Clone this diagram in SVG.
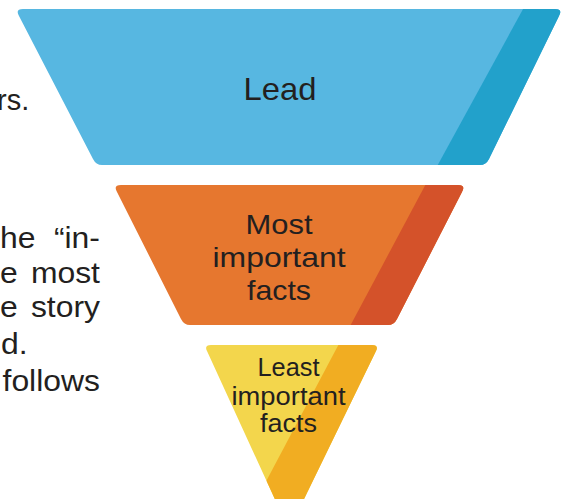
<svg xmlns="http://www.w3.org/2000/svg" width="568" height="499" viewBox="0 0 568 499">
<style>
.body{font-family:"Liberation Sans",Arial,sans-serif;font-size:29px;fill:#231f20}
.lbl{font-family:"Liberation Sans",Arial,sans-serif;fill:#231f20;text-anchor:middle}
.blue{fill:#57b7e1}.blueD{fill:#22a1cb}
.orange{fill:#e6772f}.orangeD{fill:#d4522a}
.yellow{fill:#f3d64c}.yellowD{fill:#f1ad22}
</style>
<defs>
<clipPath id="cBlue"><path d="M 23,9 H 555 Q 563,9 559,16 L 489,159 Q 486,165 480,165 H 102 Q 96,165 93,159 L 19,16 Q 15,9 23,9 Z"/></clipPath>
<clipPath id="cOrange"><path d="M 121,185 H 458 Q 466,185 462,192 L 397,319 Q 394,325 388,325 H 190 Q 184,325 181,319 L 117,192 Q 113,185 121,185 Z"/></clipPath>
<clipPath id="cYellow"><path d="M 211,345 H 372 Q 379,345 376,351 L 289,530 L 207,351 Q 204,345 211,345 Z"/></clipPath>
</defs>
<rect width="568" height="499" fill="#ffffff"/>
<g id="bodytext">
<text class="body" x="-3" y="110" font-size="27">rs.</text>
<g transform="scale(1.1,1)">
<text class="body" y="248"><tspan x="0">he</tspan><tspan x="90.9" text-anchor="end">“in-</tspan></text>
<text class="body" y="283"><tspan x="0">e</tspan><tspan x="90.9" text-anchor="end">most</tspan></text>
<text class="body" y="317"><tspan x="0">e</tspan><tspan x="90.9" text-anchor="end">story</tspan></text>
<text class="body" x="0.9" y="354">d.</text>
<text class="body" x="90.9" y="391" text-anchor="end">follows</text>
</g>
</g>
<g id="lead">
<path class="blue" d="M 23,9 H 555 Q 563,9 559,16 L 489,159 Q 486,165 480,165 H 102 Q 96,165 93,159 L 19,16 Q 15,9 23,9 Z"/>
<polygon class="blueD" clip-path="url(#cBlue)" points="528,0 570,0 570,170 435,170"/>
<text class="lbl" x="280" y="100" font-size="32" textLength="73" lengthAdjust="spacingAndGlyphs">Lead</text>
</g>
<g id="most-important">
<path class="orange" d="M 121,185 H 458 Q 466,185 462,192 L 397,319 Q 394,325 388,325 H 190 Q 184,325 181,319 L 117,192 Q 113,185 121,185 Z"/>
<polygon class="orangeD" clip-path="url(#cOrange)" points="428,180 480,180 480,330 348,330"/>
<text class="lbl" font-size="28"><tspan x="279" y="234" textLength="67" lengthAdjust="spacingAndGlyphs">Most</tspan></text>
<text class="lbl" font-size="28"><tspan x="279" y="267" textLength="133" lengthAdjust="spacingAndGlyphs">important</tspan></text>
<text class="lbl" font-size="28"><tspan x="279" y="300" textLength="64" lengthAdjust="spacingAndGlyphs">facts</tspan></text>
</g>
<g id="least-important">
<path class="yellow" d="M 211,345 H 372 Q 379,345 376,351 L 289,530 L 207,351 Q 204,345 211,345 Z"/>
<polygon class="yellowD" clip-path="url(#cYellow)" points="341,340 400,340 400,540 235,540"/>
<text class="lbl" font-size="25"><tspan x="288.5" y="376" textLength="62" lengthAdjust="spacingAndGlyphs">Least</tspan></text>
<text class="lbl" font-size="25"><tspan x="288.5" y="405" textLength="114" lengthAdjust="spacingAndGlyphs">important</tspan></text>
<text class="lbl" font-size="25"><tspan x="288.5" y="432" textLength="57" lengthAdjust="spacingAndGlyphs">facts</tspan></text>
</g>
<g id="connectors"></g>
</svg>
